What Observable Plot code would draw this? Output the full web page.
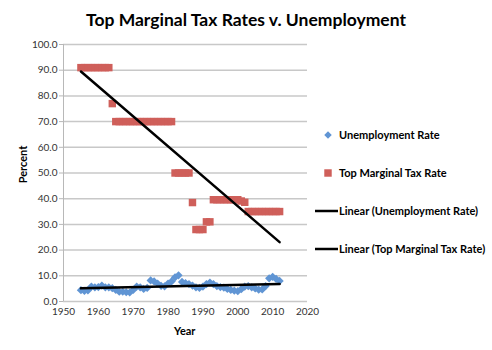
<!DOCTYPE html>
<html>
<head>
<meta charset="utf-8">
<script src="https://cdn.jsdelivr.net/npm/d3@7"></script>
<script src="https://cdn.jsdelivr.net/npm/@observablehq/plot@0.6"></script>
<style>
  html, body { margin: 0; padding: 0; background: #fff; }
  #wrap { position: relative; width: 492px; height: 350px; font-family: Lato, "Open Sans", sans-serif; }
  #chart { position: absolute; left: 0; top: 0; }
  .title { position: absolute; left: 0; width: 492px; top: 9px; text-align: center; font-weight: bold; font-size: 17.5px; color: #000; }
  .axlab { position: absolute; font-weight: bold; font-size: 11px; color: #000; }
  .leg { position: absolute; left: 312px; top: 0; }
  .leg text { font-family: Lato, "Open Sans", sans-serif; font-weight: bold; font-size: 11px; fill: #000; }
</style>
</head>
<body>
<div id="wrap">
  <div id="chart"></div>
  <div class="title">Top Marginal Tax Rates v. Unemployment</div>
  <div class="axlab" style="left:174px; top:324px;">Year</div>
  <div class="axlab" style="left:2px; top:158px; width:40px; text-align:center; transform: rotate(-90deg);">Percent</div>
</div>
<script>
const years = [1955,1956,1957,1958,1959,1960,1961,1962,1963,1964,1965,1966,1967,1968,1969,
  1970,1971,1972,1973,1974,1975,1976,1977,1978,1979,1980,1981,1982,1983,1984,1985,1986,1987,1988,1989,
  1990,1991,1992,1993,1994,1995,1996,1997,1998,1999,2000,2001,2002,2003,2004,2005,2006,2007,2008,2009,
  2010,2011,2012];
const unemploymentRate = [4.4,4.1,4.3,5.8,5.5,5.6,6.2,5.5,5.5,5.2,4.5,3.8,3.8,3.6,3.5,
  4.5,5.8,5.5,4.9,5.3,8.2,7.8,7.0,6.1,5.9,7.0,7.8,9.4,10.2,7.6,7.2,6.8,6.2,5.5,5.3,
  5.8,6.8,7.4,6.8,6.0,5.6,5.4,4.9,4.5,4.2,4.0,4.8,5.8,6.0,5.5,5.1,4.6,4.7,6.0,9.0,
  9.6,8.8,8.0];
const topMarginalTaxRate = [91,91,91,91,91,91,91,91,91,77,70,70,70,70,70,
  70,70,70,70,70,70,70,70,70,70,70,70,50,50,50,50,50,38.5,28,28,
  28,31,31,39.6,39.6,39.6,39.6,39.6,39.6,39.6,39.6,39.1,38.6,35,35,35,35,35,35,35,
  35,35,35];
const yTicks = [0,10,20,30,40,50,60,70,80,90,100];
const xTicks = [1950,1960,1970,1980,1990,2000,2010,2020];
const seriesNames = ["Unemployment Rate","Top Marginal Tax Rate","Linear (Unemployment Rate)","Linear (Top Marginal Tax Rate)"];

const blue = "#6095d4";
const red = "#cf5f5a";

const rows = years.map((y, i) => ({year: y, unemp: unemploymentRate[i], tax: topMarginalTaxRate[i]}));

const plot = Plot.plot({
  width: 492,
  height: 350,
  marginLeft: 63,
  marginRight: 185,
  marginTop: 44,
  marginBottom: 49,
  style: {fontFamily: "Lato, 'Open Sans', sans-serif", fontSize: "10px", background: "transparent"},
  x: {domain: [1950, 2020], label: null},
  y: {domain: [0, 100], label: null},
  marks: [
    Plot.ruleY(yTicks, {stroke: "#c8c8c8", strokeWidth: 1.5}),
    Plot.ruleX([1950], {stroke: "#b8b8b8", strokeWidth: 1}),
    Plot.axisY({ticks: yTicks, tickFormat: d => d.toFixed(1), tickSize: 4, tickPadding: 2, stroke: "#b8b8b8", fill: "#333", label: null}),
    Plot.axisX({ticks: xTicks, tickFormat: d => String(d), tickSize: 0, tickPadding: 6, fill: "#333", label: null}),
    Plot.dot(rows, {x: "year", y: "tax", symbol: "square", r: 4.2, fill: red, stroke: "none"}),
    Plot.dot(rows, {x: "year", y: "unemp", symbol: "diamond2", r: 3.7, fill: blue, stroke: "none"}),
    Plot.linearRegressionY(rows, {x: "year", y: "unemp", stroke: "black", strokeWidth: 2.5, ci: 0}),
    Plot.linearRegressionY(rows, {x: "year", y: "tax", stroke: "black", strokeWidth: 2.5, ci: 0})
  ]
});
document.getElementById("chart").appendChild(plot);

// Legend
const leg = d3.create("svg").attr("class", "leg").attr("width", 180).attr("height", 350);
const ly = [135, 173, 211, 249];
leg.append("path").attr("d", d3.symbol(d3.symbolDiamond2, Math.PI * 3.4 * 3.4)()).attr("transform", `translate(16,${ly[0]})`).attr("fill", blue);
leg.append("path").attr("d", d3.symbol(d3.symbolSquare, Math.PI * 4.2 * 4.2)()).attr("transform", `translate(16,${ly[1]})`).attr("fill", red);
leg.append("line").attr("x1", 3).attr("x2", 26).attr("y1", ly[2]).attr("y2", ly[2]).attr("stroke", "black").attr("stroke-width", 2.5);
leg.append("line").attr("x1", 3).attr("x2", 26).attr("y1", ly[3]).attr("y2", ly[3]).attr("stroke", "black").attr("stroke-width", 2.5);
seriesNames.forEach((s, i) => {
  leg.append("text").attr("x", 27).attr("y", ly[i]).attr("dy", "0.35em").text(s);
});
document.getElementById("wrap").appendChild(leg.node());
</script>
</body>
</html>
